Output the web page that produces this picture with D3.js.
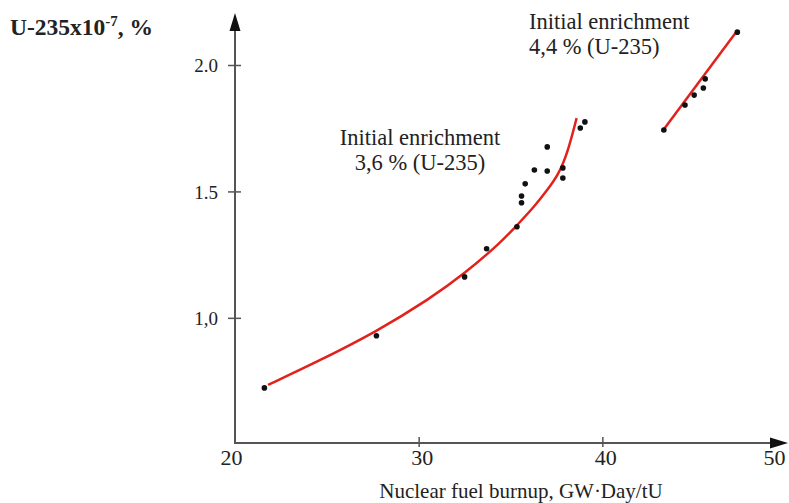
<!DOCTYPE html>
<html>
<head>
<meta charset="utf-8">
<script src="https://cdn.jsdelivr.net/npm/d3@7"></script>
<style>
body { margin: 0; background: #fff; }
text { font-family: "Liberation Serif", "Times New Roman", serif; fill: #222; }
</style>
</head>
<body>
<script>
// measured points, initial enrichment 3,6 %
var burnup36 = [21.6, 27.7, 32.5, 33.7, 35.35, 35.6, 35.6, 35.8, 36.3, 37.0, 37.0, 37.85, 37.85, 38.8, 39.05];
var u235_36  = [0.723, 0.929, 1.162, 1.273, 1.36, 1.482, 1.455, 1.53, 1.585, 1.676, 1.581, 1.593, 1.553, 1.751, 1.775];
// fitted curve 3,6 %
var fitX36 = [21.8, 24.3, 27.7, 30.6, 32.5, 34.5, 35.4, 36.3, 37.0, 37.6, 38.1, 38.6];
var fitY36 = [0.735, 0.82, 0.945, 1.075, 1.175, 1.30, 1.37, 1.44, 1.505, 1.565, 1.65, 1.79];
// measured points + fit, initial enrichment 4,4 %
var burnup44 = [43.35, 44.5, 45.0, 45.5, 45.6, 47.35];
var u235_44  = [1.743, 1.842, 1.881, 1.909, 1.945, 2.13];
var fitX44 = [43.25, 47.35];
var fitY44 = [1.736, 2.136];

var xTicks = [20, 30, 40, 50];
var yTicks = [1.0, 1.5, 2.0];
var yTickLabels = ["1,0", "1.5", "2.0"];

var width = 789, height = 503;
var axisColor = "#555";
var red = "#e3211c";

var x = d3.scaleLinear().domain([20, 50]).range([235, 786]);
var y = d3.scaleLinear().domain([0.505, 2.0]).range([443, 65]);

var svg = d3.select("body").append("svg")
    .attr("width", width)
    .attr("height", height);

// axes (labels + ticks)
var xAxis = svg.append("g")
    .attr("transform", "translate(0," + y(0.505) + ")")
    .call(d3.axisBottom(x).tickValues(xTicks).tickFormat(d3.format("d")).tickSizeOuter(0));
xAxis.select(".domain").remove();
xAxis.selectAll(".tick line")
    .attr("y1", -6).attr("y2", 4)
    .attr("stroke", axisColor).attr("stroke-width", 1.5)
    .style("display", function (d) { return (d === 20 || d === 50) ? "none" : null; });
xAxis.selectAll(".tick text")
    .attr("y", 22).attr("dy", null)
    .attr("dx", function (d) { return d === 50 ? -12 : (d === 20 ? -4 : 3); })
    .style("font-size", "22px")
    .style("font-family", "Liberation Serif")
    .attr("fill", "#222");

var yAxis = svg.append("g")
    .attr("transform", "translate(" + x(20) + ",0)")
    .call(d3.axisLeft(y).tickValues(yTicks).tickFormat(function (d, i) { return yTickLabels[i]; }).tickSizeOuter(0));
yAxis.select(".domain").remove();
yAxis.selectAll(".tick line")
    .attr("x1", -7).attr("x2", 6)
    .attr("stroke", axisColor).attr("stroke-width", 1.5);
yAxis.selectAll(".tick text")
    .attr("x", -17).attr("dy", "0.35em")
    .style("font-size", "19px")
    .style("font-family", "Liberation Serif")
    .attr("fill", "#333");

// axis lines with arrows
var x0 = x(20), y0 = y(0.505);
svg.append("line")
    .attr("x1", x0).attr("y1", y0).attr("x2", x0).attr("y2", 28)
    .attr("stroke", axisColor).attr("stroke-width", 2);
svg.append("line")
    .attr("x1", x0 - 1).attr("y1", y0).attr("x2", 772).attr("y2", y0)
    .attr("stroke", axisColor).attr("stroke-width", 2);
svg.append("path")
    .attr("d", "M" + x0 + ",13 L" + (x0 + 5.5) + ",31 L" + (x0 - 5.5) + ",31 Z")
    .attr("fill", "#111");
svg.append("path")
    .attr("d", "M788," + y0 + " L770," + (y0 - 5.5) + " L770," + (y0 + 5.5) + " Z")
    .attr("fill", "#111");

// fitted curves
var line = d3.line()
    .x(function (d) { return x(d[0]); })
    .y(function (d) { return y(d[1]); });

svg.append("path")
    .datum(d3.zip(fitX36, fitY36))
    .attr("d", line.curve(d3.curveBasis))
    .attr("fill", "none")
    .attr("stroke", red)
    .attr("stroke-width", 2.5);

svg.append("path")
    .datum(d3.zip(fitX44, fitY44))
    .attr("d", line.curve(d3.curveLinear))
    .attr("fill", "none")
    .attr("stroke", red)
    .attr("stroke-width", 2.5);

// measured points
var pts = d3.zip(burnup36, u235_36).concat(d3.zip(burnup44, u235_44));
svg.append("g")
    .selectAll("circle")
    .data(pts)
    .enter()
    .append("circle")
    .attr("cx", function (d) { return x(d[0]); })
    .attr("cy", function (d) { return y(d[1]); })
    .attr("r", 2.8)
    .attr("fill", "#111");

// annotations
var a1 = svg.append("text")
    .attr("x", 420).attr("y", 145)
    .attr("text-anchor", "middle")
    .style("font-size", "22.5px");
a1.append("tspan").attr("x", 420).text("Initial enrichment");
a1.append("tspan").attr("x", 420).attr("dy", 25).text("3,6 % (U-235)");

var a2 = svg.append("text")
    .attr("x", 529).attr("y", 29)
    .style("font-size", "22.5px");
a2.append("tspan").attr("x", 529).text("Initial enrichment");
a2.append("tspan").attr("x", 529).attr("dy", 25).text("4,4 % (U-235)");

// axis titles
var yt = svg.append("text")
    .attr("x", 10).attr("y", 35)
    .style("font-size", "23.5px")
    .style("font-weight", "bold")
    .attr("fill", "#111");
yt.append("tspan").text("U-235x10");
yt.append("tspan").attr("dy", -9).style("font-size", "15px").text("-7");
yt.append("tspan").attr("dy", 9).text(", %");

svg.append("text")
    .attr("x", 521).attr("y", 498)
    .attr("text-anchor", "middle")
    .style("font-size", "21px")
    .text("Nuclear fuel burnup, GW\u00B7Day/tU");
</script>
</body>
</html>
